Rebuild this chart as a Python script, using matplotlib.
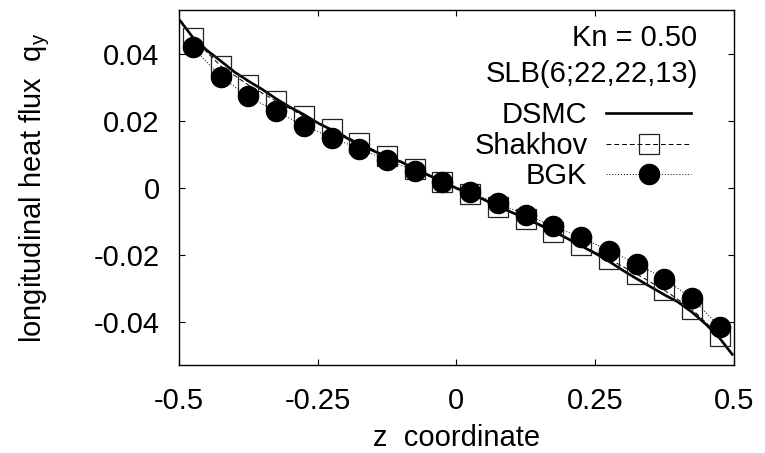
import numpy as np
from matplotlib import pyplot as plt

plt.rcParams['font.family'] = ['Liberation Sans', 'DejaVu Sans']
plt.rcParams['mathtext.fontset'] = 'custom'
plt.rcParams['mathtext.rm'] = 'Liberation Sans'

FS = 21

# DSMC profile
z_dsmc = [-0.4975, -0.475, -0.45, -0.425, -0.40, -0.375, -0.35, -0.325, -0.30,
          -0.275, -0.25, -0.225, -0.20, -0.175, -0.15, -0.125, -0.10, -0.075,
          -0.05, -0.025, 0.0, 0.025, 0.05, 0.075, 0.10, 0.125, 0.15, 0.175,
          0.20, 0.225, 0.25, 0.275, 0.30, 0.325, 0.35, 0.375, 0.40, 0.425,
          0.45, 0.475, 0.4975]
q_dsmc = [0.0497, 0.0448, 0.0410, 0.0378, 0.0345, 0.0318, 0.0293, 0.0265, 0.0240,
          0.0218, 0.0193, 0.0172, 0.0150, 0.0128, 0.0110, 0.0090, 0.0077, 0.0056,
          0.0037, 0.0018, -0.0002, -0.0019, -0.0036, -0.0057, -0.0074, -0.0092,
          -0.0111, -0.0130, -0.0152, -0.0174, -0.0196, -0.0220, -0.0247, -0.0272,
          -0.0296, -0.0320, -0.0342, -0.0372, -0.0408, -0.0450, -0.0498]

# lattice Boltzmann results (cell centres)
z_lb = [-0.475, -0.425, -0.375, -0.325, -0.275, -0.225, -0.175, -0.125, -0.075,
        -0.025, 0.025, 0.075, 0.125, 0.175, 0.225, 0.275, 0.325, 0.375, 0.425,
        0.475]
q_shakhov = [0.0446, 0.0363, 0.0306, 0.0258, 0.0213, 0.0175, 0.0133, 0.0094,
             0.0055, 0.0016, -0.0018, -0.0057, -0.0094, -0.0134, -0.0172,
             -0.0213, -0.0258, -0.0306, -0.0363, -0.0443]
q_bgk = [0.0418, 0.0331, 0.0272, 0.0227, 0.0185, 0.0149, 0.0116, 0.0082,
         0.0050, 0.0016, -0.0014, -0.0047, -0.0081, -0.0116, -0.0149,
         -0.0188, -0.0227, -0.0272, -0.0331, -0.0415]

xticks = [-0.5, -0.25, 0, 0.25, 0.5]
xtick_labels = ['-0.5', '-0.25', '0', '0.25', '0.5']
yticks = [-0.04, -0.02, 0, 0.02, 0.04]
ytick_labels = ['-0.04', '-0.02', '0', '0.02', '0.04']

fig = plt.figure(figsize=(7.65, 4.53), dpi=100)
ax = fig.add_axes([0.234, 0.194, 0.725, 0.784])

ax.plot(z_dsmc, q_dsmc, color='black', lw=1.9, label='DSMC', zorder=3)
ax.plot(z_lb, q_shakhov, color='black', lw=0.7, linestyle=(0, (5, 3)),
        marker='s', ms=15, mfc='none', mec='#222222', mew=0.9,
        label='Shakhov', zorder=4)
ax.plot(z_lb, q_bgk, color='black', lw=0.7, linestyle=(0, (1, 2)),
        marker='o', ms=14.5, mfc='black', mec='black',
        label='BGK', zorder=5)

ax.set_xlim(-0.5, 0.5)
ax.set_ylim(-0.053, 0.053)
ax.set_xticks(xticks)
ax.set_xticklabels(xtick_labels)
ax.set_yticks(yticks)
ax.set_yticklabels(ytick_labels)
ax.tick_params(direction='in', top=True, right=True, length=4.5, width=0.8,
               labelsize=FS)
ax.tick_params(axis='x', pad=16)
ax.tick_params(axis='y', pad=14)
for s in ax.spines.values():
    s.set_linewidth(1.0)

ax.set_xlabel('z  coordinate', fontsize=FS, labelpad=6)
ax.set_ylabel(r'longitudinal heat flux  q$_\mathregular{y}$', fontsize=FS,
              labelpad=30)

ax.text(0.935, 0.96, 'Kn = 0.50', transform=ax.transAxes, ha='right',
        va='top', fontsize=FS)
ax.text(0.935, 0.86, 'SLB(6;22,22,13)', transform=ax.transAxes, ha='right',
        va='top', fontsize=FS)
ax.legend(loc='upper right', bbox_to_anchor=(0.96, 0.80), frameon=False,
          markerfirst=False, fontsize=FS, handlelength=2.9,
          handletextpad=0.65, labelspacing=0.08, borderpad=0.2, numpoints=1)

fig.savefig('out.png', dpi=100)
